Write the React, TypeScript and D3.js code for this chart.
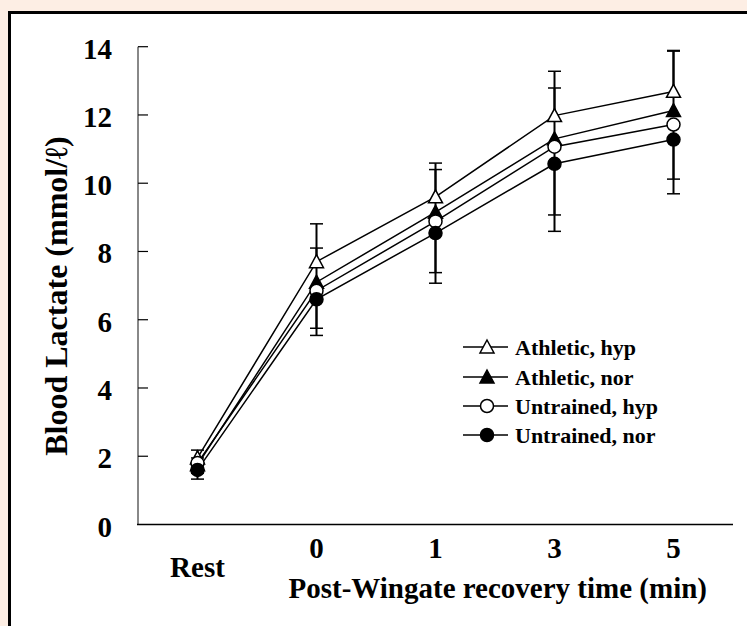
import React from 'react'
import * as d3 from 'd3'

// recovery time points
const categories = ['Rest', '0', '1', '3', '5']

// series means (mmol/l)
const athleticHyp = [1.95, 7.7, 9.6, 11.98, 12.69]
const athleticNor = [1.75, 7.1, 9.15, 11.3, 12.13]
const untrainedHyp = [1.8, 6.85, 8.88, 11.07, 11.72]
const untrainedNor = [1.6, 6.6, 8.54, 10.57, 11.28]

// SD shown one-sided: athletic upward, untrained downward
const athleticHypSd = [0.23, 1.11, 0.99, 1.3, 1.2]
const athleticNorSd = [0.2, 1.0, 1.25, 1.49, 1.74]
const untrainedHypSd = [0.3, 1.1, 1.5, 2.0, 1.6]
const untrainedNorSd = [0.27, 1.06, 1.47, 1.98, 1.59]

const yTicks = [0, 2, 4, 6, 8, 10, 12, 14]

const seriesNames = ['Athletic, hyp', 'Athletic, nor', 'Untrained, hyp', 'Untrained, nor']

const W = 747
const H = 626
const font = '"Liberation Serif", "Times New Roman", serif'

const series = [
  { name: seriesNames[0], values: athleticHyp, sd: athleticHypSd, dir: 1, shape: 'tri', fill: '#fff' },
  { name: seriesNames[1], values: athleticNor, sd: athleticNorSd, dir: 1, shape: 'tri', fill: '#000' },
  { name: seriesNames[2], values: untrainedHyp, sd: untrainedHypSd, dir: -1, shape: 'circle', fill: '#fff' },
  { name: seriesNames[3], values: untrainedNor, sd: untrainedNorSd, dir: -1, shape: 'circle', fill: '#000' },
]

const Marker = ({ x, y, shape, fill }: { x: number; y: number; shape: string; fill: string }) => {
  if (shape === 'circle') {
    return <circle cx={x} cy={y} r={6.5} fill={fill} stroke="#000" strokeWidth={1.5} />
  }
  const s = 7
  return (
    <path
      d={`M${x},${y - s} L${x + s},${y + s * 0.85} L${x - s},${y + s * 0.85} Z`}
      fill={fill}
      stroke="#000"
      strokeWidth={1.5}
    />
  )
}

export default function App() {
  const x = d3.scalePoint<string>().domain(categories).range([138, 733]).padding(0.5)
  const y = d3.scaleLinear().domain([0, 14]).range([524.5, 46.7])

  const line = d3
    .line<number>()
    .x((_, i) => x(categories[i]) as number)
    .y((d) => y(d))

  const legendX = 463
  const legendY = [347, 377, 406, 435]

  return (
    <svg width={W} height={H} style={{ position: 'absolute', left: 0, top: 0 }}>
      <rect x={0} y={0} width={W} height={H} fill="#fdeee4" />
      <rect x={9.5} y={12.5} width={W + 20} height={H + 20} fill="#fff" stroke="#000" strokeWidth={3} />

      {/* axes */}
      <line x1={138} x2={138} y1={y(14)} y2={y(0)} stroke="#888" strokeWidth={2} />
      <line x1={137} x2={733} y1={y(0)} y2={y(0)} stroke="#000" strokeWidth={1.5} />
      {yTicks.map((t) => (
        <g key={t}>
          {t > 0 && <line x1={138} x2={148} y1={y(t)} y2={y(t)} stroke="#000" strokeWidth={1.2} />}
          <text
            x={112}
            y={y(t) + 12}
            textAnchor="end"
            fontFamily={font}
            fontWeight="bold"
            fontSize={29}
          >
            {t}
          </text>
        </g>
      ))}
      {categories.map((c, i) => (
        <text
          key={c}
          x={x(c)}
          y={i === 0 ? 577 : 558}
          textAnchor="middle"
          fontFamily={font}
          fontWeight="bold"
          fontSize={29}
        >
          {c}
        </text>
      ))}
      <text x={707} y={598} textAnchor="end" fontFamily={font} fontWeight="bold" fontSize={29}>
        Post-Wingate recovery time (min)
      </text>
      <text
        transform={`translate(67,296) rotate(-90)`}
        textAnchor="middle"
        fontFamily={font}
        fontWeight="bold"
        fontSize={32}
      >
        Blood Lactate (mmol/ℓ)
      </text>

      {/* error bars */}
      {series.map((s) =>
        s.values.map((v, i) => {
          const cx = x(categories[i]) as number
          const end = y(v + s.dir * s.sd[i])
          return (
            <g key={s.name + i}>
              <line x1={cx} x2={cx} y1={y(v)} y2={end} stroke="#000" strokeWidth={2} />
              <line x1={cx - 6.5} x2={cx + 6.5} y1={end} y2={end} stroke="#000" strokeWidth={1.5} />
            </g>
          )
        })
      )}

      {/* lines */}
      {series.map((s) => (
        <path key={s.name} d={line(s.values) || ''} fill="none" stroke="#000" strokeWidth={1.5} />
      ))}

      {/* markers */}
      {series.map((s) =>
        s.values.map((v, i) => (
          <Marker key={s.name + i} x={x(categories[i]) as number} y={y(v)} shape={s.shape} fill={s.fill} />
        ))
      )}

      {/* legend */}
      {series.map((s, i) => (
        <g key={s.name}>
          <line x1={legendX} x2={legendX + 45} y1={legendY[i]} y2={legendY[i]} stroke="#000" strokeWidth={1.5} />
          <Marker x={legendX + 24} y={legendY[i]} shape={s.shape} fill={s.fill} />
          <text x={legendX + 52} y={legendY[i] + 7.5} fontFamily={font} fontWeight="bold" fontSize={22}>
            {s.name}
          </text>
        </g>
      ))}
    </svg>
  )
}
